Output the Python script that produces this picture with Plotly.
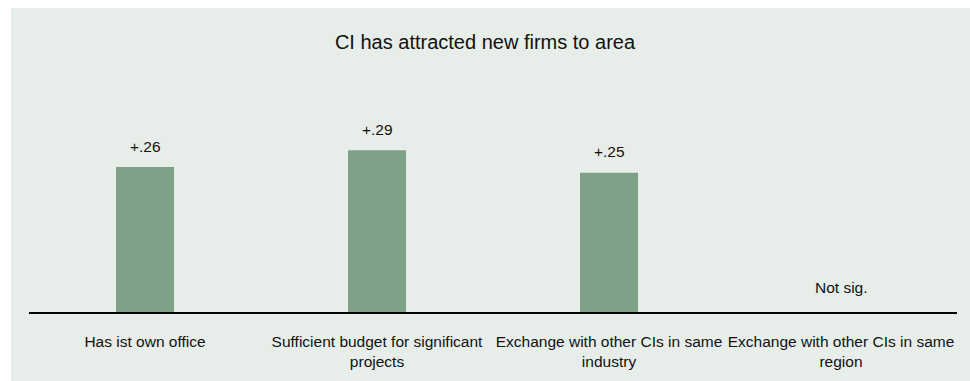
import plotly.graph_objects as go

# Effect of club characteristics on "CI has attracted new firms to area"
categories = [
    "Has ist own office",
    "Sufficient budget for significant<br>projects",
    "Exchange with other CIs in same<br>industry",
    "Exchange with other CIs in same<br>region",
]
effects = [0.26, 0.29, 0.25, None]  # None = not significant
title_text = "CI has attracted new firms to area"

PANEL = "#E7EDE9"
BAR = "#7DA087"
FONT = "Liberation Sans, Arial, sans-serif"
TXT = "#111111"

W, H = 970, 381
ml, mr, mt, mb = 29, 13, 89, 69
pw, ph = W - ml - mr, H - mt - mb

fig = go.Figure(
    go.Bar(
        x=categories,
        y=[v if v is not None else 0 for v in effects],
        marker=dict(color=BAR, line=dict(width=0)),
        hoverinfo="skip",
    )
)

# value labels above bars, "Not sig." for missing effects
for cat, v in zip(categories, effects):
    if v is None:
        fig.add_annotation(x=cat, y=0, text="Not sig.", showarrow=False,
                           yanchor="middle", yshift=25,
                           font=dict(size=15.5, color=TXT, family=FONT))
    else:
        label = "+" + f"{v:.2f}".lstrip("0")
        fig.add_annotation(x=cat, y=v, text=label, showarrow=False,
                           yanchor="middle", yshift=21,
                           font=dict(size=15.5, color=TXT, family=FONT))

# thin white strips along the left and top edges of the panel
fig.add_shape(type="rect", xref="paper", yref="paper",
              x0=-(ml + 20) / pw, x1=(11 - ml) / pw,
              y0=-(mb + 20) / ph, y1=(H - mb + 20) / ph,
              fillcolor="white", line=dict(width=0), layer="below")
fig.add_shape(type="rect", xref="paper", yref="paper",
              x0=-(ml + 20) / pw, x1=(W - ml + 20) / pw,
              y0=(H - mb - 8) / ph, y1=(H - mb + 20) / ph,
              fillcolor="white", line=dict(width=0), layer="below")

fig.update_layout(
    width=W, height=H,
    margin=dict(l=ml, r=mr, t=mt, b=mb, pad=0),
    paper_bgcolor=PANEL,
    plot_bgcolor="rgba(0,0,0,0)",
    bargap=0.75,
    showlegend=False,
    title=dict(text=title_text, x=0.5, xref="container", xanchor="center",
               y=1 - 42 / H, yref="container", yanchor="middle",
               font=dict(size=20, color=TXT, family=FONT)),
    font=dict(family=FONT, size=15.5, color=TXT),
)
fig.update_xaxes(showline=True, linecolor="black", linewidth=2,
                 ticks="", showgrid=False, zeroline=False,
                 ticklabelstandoff=14,
                 tickfont=dict(size=15.5, color=TXT, family=FONT))
fig.update_yaxes(range=[0, 0.4], visible=False, showgrid=False, zeroline=False)

fig.write_html("out.html")
